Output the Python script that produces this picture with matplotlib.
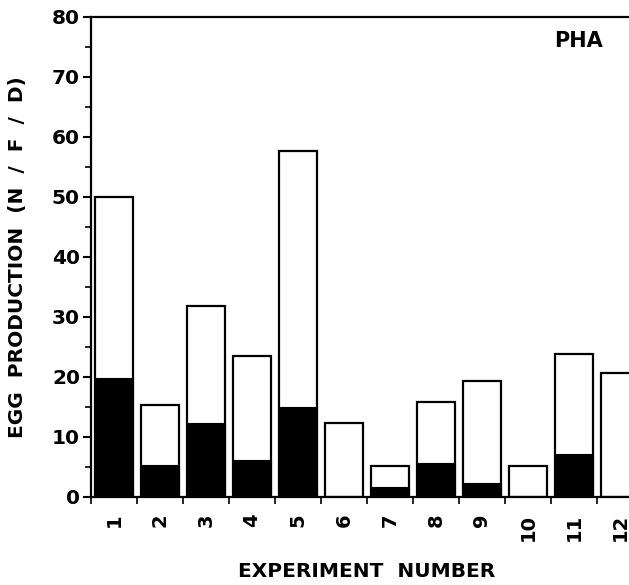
import numpy as np
import matplotlib
matplotlib.use("Agg")
import matplotlib.pyplot as plt
from matplotlib.ticker import MultipleLocator

plt.rcParams['font.family'] = ['DejaVu Sans']
plt.rcParams['font.weight'] = 'bold'

experiments = ['1', '2', '3', '4', '5', '6', '7', '8', '9', '10', '11', '12']
total_eggs = [50.0, 15.3, 31.8, 23.5, 57.7, 12.3, 5.2, 15.9, 19.3, 5.2, 23.8, 20.6]
hatched_part = [19.8, 5.3, 12.4, 6.2, 15.0, 0, 1.7, 5.6, 2.3, 0, 7.2, 0]

x = np.arange(1, len(experiments) + 1)

fig = plt.figure(figsize=(6.29, 5.85), dpi=100)
ax = fig.add_axes([91/629, 88/585, 552/629, 480/585])

ax.bar(x, total_eggs, width=0.84, color='white', edgecolor='black', linewidth=1.6, zorder=2)
ax.bar(x, hatched_part, width=0.84, color='black', edgecolor='black', linewidth=0.8, zorder=3)

ax.set_xlim(0.5, 12.5)
ax.set_ylim(0, 80)

ax.yaxis.set_major_locator(MultipleLocator(10))
ax.yaxis.set_minor_locator(MultipleLocator(5))
ax.tick_params(axis='y', which='major', length=6, width=1.5, labelsize=14.5, pad=2)
ax.tick_params(axis='y', which='minor', length=4, width=1.2)

ax.set_xticks(x)
ax.set_xticklabels(experiments, rotation=90, fontsize=14, fontweight='bold')
ax.set_xticks(np.arange(0.5, 12.5, 1), minor=True)
ax.tick_params(axis='x', which='major', length=0, pad=12)
ax.tick_params(axis='x', which='minor', length=5, width=1.2)

for lbl in ax.get_yticklabels():
    lbl.set_fontweight('bold')

for side in ['left', 'top', 'bottom']:
    ax.spines[side].set_linewidth(1.6)
ax.spines['right'].set_visible(False)

ax.set_ylabel('EGG  PRODUCTION  (N  /  F  /  D)', fontsize=14.5, fontweight='bold')
ax.yaxis.set_label_coords(-0.116, 0.5)
ax.set_xlabel('EXPERIMENT  NUMBER', fontsize=14.5, fontweight='bold')
ax.xaxis.set_label_coords(0.5, -0.135)

ax.text(11.1, 76, 'PHA', fontsize=15, fontweight='bold', ha='center', va='center')

fig.savefig('out.png', dpi=100)
